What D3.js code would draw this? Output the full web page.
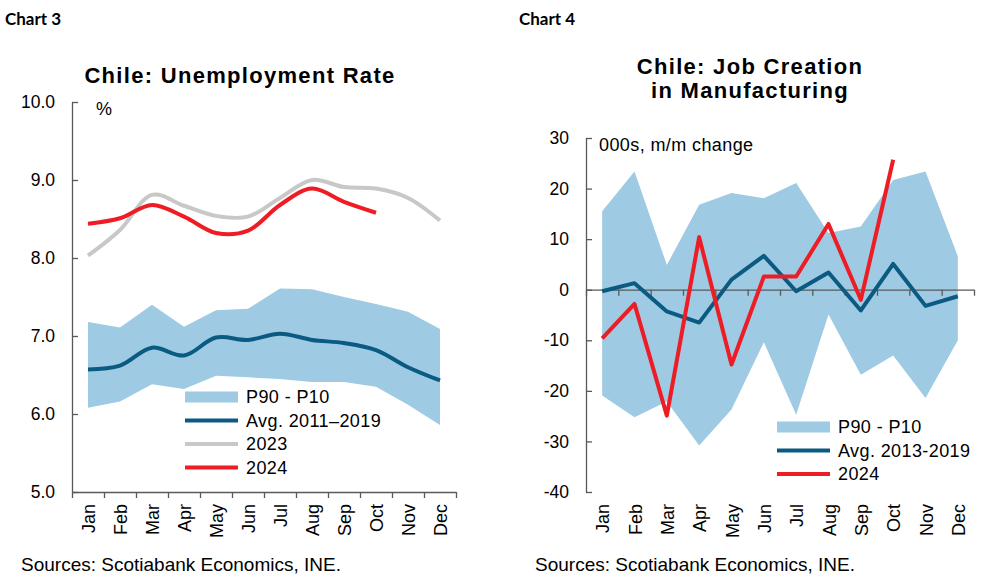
<!DOCTYPE html>
<html lang="en">
<head>
  <meta charset="UTF-8">
  <title>Chile: Unemployment and Job Creation</title>
  <style>
    body { margin: 0; background: #fff; }
    svg { display: block; font-family: "Liberation Sans", Arial, sans-serif; }
    .tick text { font-size: 17.5px; fill: #000; }
    .domain, .tick line { stroke: #595959; stroke-width: 1.3px; }
    .hdr { font-family: Lato, "Open Sans", sans-serif; font-weight: bold; font-size: 17px; }
    .ttl { font-weight: bold; font-size: 22px; letter-spacing: 1.3px; }
    .lbl { font-size: 18px; letter-spacing: 0.4px; }
    .mon { font-size: 18px; }
    .src { font-size: 19px; }
  </style>
</head>
<body>
  <svg width="994" height="579"></svg>

  <script src="https://d3js.org/d3.v7.min.js"></script>
  <script>
    const months = ["Jan","Feb","Mar","Apr","May","Jun","Jul","Aug","Sep","Oct","Nov","Dec"];

    // Chart 3: unemployment rate, %
    const unP90 = [7.18, 7.11, 7.40, 7.12, 7.33, 7.35, 7.61, 7.60, 7.50, 7.41, 7.31, 7.09];
    const unP10 = [6.08, 6.16, 6.38, 6.32, 6.49, 6.47, 6.45, 6.41, 6.41, 6.35, 6.12, 5.86];
    const unAvg = [6.57, 6.62, 6.85, 6.75, 6.98, 6.95, 7.03, 6.95, 6.91, 6.82, 6.60, 6.43];
    const un2023 = [8.03, 8.36, 8.81, 8.67, 8.54, 8.53, 8.77, 9.00, 8.91, 8.89, 8.77, 8.48];
    const un2024 = [8.44, 8.51, 8.68, 8.53, 8.32, 8.35, 8.68, 8.89, 8.72, 8.58];
    const unTicks = [5, 6, 7, 8, 9, 10];

    // Chart 4: manufacturing job creation, 000s m/m change
    const jcP90 = [15.5, 23.4, 4.9, 16.8, 19.1, 18.1, 21.1, 11.2, 12.5, 21.7, 23.4, 6.6];
    const jcP10 = [-20.9, -25.2, -22.1, -30.8, -23.7, -10.4, -24.7, -4.9, -16.8, -13.0, -21.4, -10.0];
    const jcAvg = [-0.3, 1.3, -4.3, -6.5, 2.0, 6.7, -0.3, 3.4, -4.1, 5.1, -3.2, -1.3];
    const jc2024 = [-9.6, -2.8, -24.9, 10.4, -14.8, 2.6, 2.6, 13.0, -2.0, 25.7];
    const jcTicks = [-40, -30, -20, -10, 0, 10, 20, 30];

    const colBand = "#9ecae3";
    const colAvg = "#0b5a82";
    const colRed = "#ee1c25";
    const colGrey = "#c8c8c8";

    const svg = d3.select("svg");

    // month labels + tick marks at the band edges
    function monthAxis(g, x, yLine, yLabels) {
      const edges = d3.scaleLinear().domain([0, 12]).range(x.range());
      g.append("g")
        .attr("transform", `translate(0,${yLine})`)
        .call(d3.axisBottom(edges).ticks(12).tickSize(6).tickSizeOuter(0).tickFormat(""));
      g.append("g").selectAll("text")
        .data(months)
        .join("text")
        .attr("class", "mon")
        .attr("transform", d => `translate(${x(d) + x.bandwidth() / 2 + 1},${yLabels}) rotate(-90)`)
        .attr("dy", "0.35em")
        .attr("text-anchor", "end")
        .text(d => d);
    }

    function legend(g, x0, y0, items) {
      items.forEach((it, i) => {
        const yy = y0 + i * 23.5;
        if (it.area) {
          g.append("rect").attr("x", x0).attr("y", yy - 5.5).attr("width", 53).attr("height", 11).attr("fill", it.color);
        } else {
          g.append("line").attr("x1", x0).attr("x2", x0 + 53).attr("y1", yy).attr("y2", yy)
            .attr("stroke", it.color).attr("stroke-width", 4);
        }
        g.append("text").attr("class", "lbl").attr("x", x0 + 61).attr("y", yy).attr("dy", "0.36em").text(it.name);
      });
    }

    // ---------- Chart 3 ----------
    {
      const g = svg.append("g");
      const x = d3.scaleBand().domain(months).range([72, 456]);
      const y = d3.scaleLinear().domain([5, 10]).range([492, 102]);
      const cx = i => x(months[i]) + x.bandwidth() / 2;

      g.append("text").attr("class", "hdr").attr("x", 5).attr("y", 25).text("Chart 3");
      g.append("text").attr("class", "ttl").attr("x", 240).attr("y", 83).attr("text-anchor", "middle").text("Chile: Unemployment Rate");

      g.append("path")
        .datum(months.map((m, i) => i))
        .attr("fill", colBand)
        .attr("d", d3.area().x(cx).y0(i => y(unP10[i])).y1(i => y(unP90[i])));

      const line = vals => d3.line().curve(d3.curveCatmullRom.alpha(0.5)).x((d, i) => cx(i)).y(d => y(d))(vals);
      g.append("path").attr("d", line(unAvg)).attr("fill", "none").attr("stroke", colAvg).attr("stroke-width", 4);
      g.append("path").attr("d", line(un2023)).attr("fill", "none").attr("stroke", colGrey).attr("stroke-width", 4);
      g.append("path").attr("d", line(un2024)).attr("fill", "none").attr("stroke", colRed).attr("stroke-width", 4);

      g.append("g")
        .attr("transform", "translate(72,0)")
        .call(d3.axisLeft(y).tickValues(unTicks).tickSize(-6).tickSizeOuter(0).tickPadding(17).tickFormat(d3.format(".1f")));
      monthAxis(g, x, 492, 504);

      g.append("text").attr("class", "lbl").attr("x", 96).attr("y", 115).text("%");

      legend(g, 185, 397, [
        { name: "P90 - P10", color: colBand, area: true },
        { name: "Avg. 2011\u20132019", color: colAvg },
        { name: "2023", color: colGrey },
        { name: "2024", color: colRed }
      ]);

      g.append("text").attr("class", "src").attr("x", 21).attr("y", 571).text("Sources: Scotiabank Economics, INE.");
    }

    // ---------- Chart 4 ----------
    {
      const g = svg.append("g");
      const x = d3.scaleBand().domain(months).range([586, 974]);
      const y = d3.scaleLinear().domain([-40, 30]).range([492, 138]);
      const cx = i => x(months[i]) + x.bandwidth() / 2;

      g.append("text").attr("class", "hdr").attr("x", 519).attr("y", 25).text("Chart 4");
      g.append("text").attr("class", "ttl").attr("x", 750).attr("y", 74).attr("text-anchor", "middle").text("Chile: Job Creation");
      g.append("text").attr("class", "ttl").attr("x", 750).attr("y", 98).attr("text-anchor", "middle").text("in Manufacturing");

      g.append("path")
        .datum(months.map((m, i) => i))
        .attr("fill", colBand)
        .attr("d", d3.area().x(cx).y0(i => y(jcP10[i])).y1(i => y(jcP90[i])));

      const line = d3.line().x((d, i) => cx(i)).y(d => y(d));

      g.append("g")
        .attr("transform", "translate(586,0)")
        .call(d3.axisLeft(y).tickValues(jcTicks).tickSize(-6).tickSizeOuter(0).tickPadding(17).tickFormat(d => String(d)));
      monthAxis(g, x, y(0), 504);

      g.append("path").attr("d", line(jcAvg)).attr("fill", "none").attr("stroke", colAvg).attr("stroke-width", 4).attr("stroke-linejoin", "round");
      g.append("path").attr("d", line(jc2024)).attr("fill", "none").attr("stroke", colRed).attr("stroke-width", 4).attr("stroke-linejoin", "round");

      g.append("text").attr("class", "lbl").attr("x", 599).attr("y", 151).text("000s, m/m change");

      legend(g, 777, 427, [
        { name: "P90 - P10", color: colBand, area: true },
        { name: "Avg. 2013-2019", color: colAvg },
        { name: "2024", color: colRed }
      ]);

      g.append("text").attr("class", "src").attr("x", 535).attr("y", 571).text("Sources: Scotiabank Economics, INE.");
    }
  </script>
</body>
</html>
